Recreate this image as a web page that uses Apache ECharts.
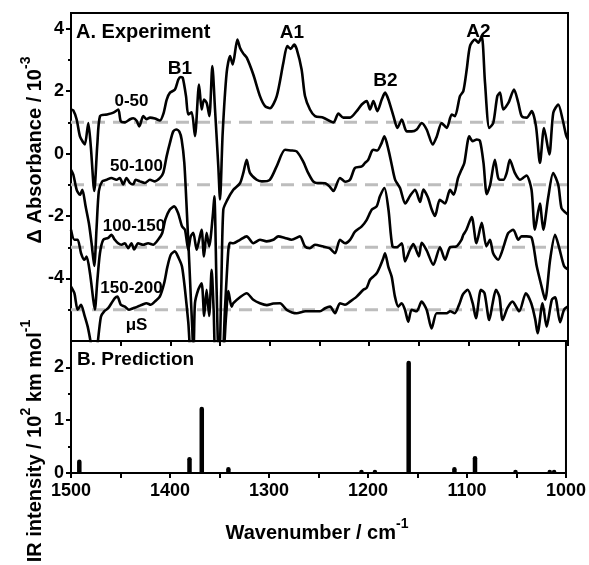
<!DOCTYPE html>
<html>
<head>
<meta charset="utf-8">
<script src="https://cdn.jsdelivr.net/npm/echarts@6/dist/echarts.min.js"></script>
<style>html,body{margin:0;padding:0;background:#fff;}#c{width:589px;height:565px;}</style>
</head>
<body>
<div id="c"></div>
<script>
// ---------- DATA ----------
// Panel A: time-resolved difference spectra (plotted values, offset traces)
var trace0_50 = [[1500,1.41],[1497.7,1.38],[1494.3,1.09],[1491,0.55],[1487.6,0.35],[1486,0.29],[1482.6,0.98],[1480,0.2],[1476.6,-1.2],[1473.5,0.3],[1470.8,1.2],[1464,1.25],[1457.4,1.31],[1452.4,1.41],[1450,1.04],[1445.7,1.0],[1440.6,1.1],[1437.3,1.13],[1434,1.05],[1431.3,0.87],[1427.3,1.2],[1423.9,1.1],[1420.5,1.15],[1415.5,1.12],[1410.5,1.06],[1407,1.28],[1403.7,1.73],[1400.4,1.95],[1395.4,2.05],[1392,2.37],[1389.5,2.45],[1387.6,2.43],[1384.3,1.84],[1382,1.25],[1378.6,1.32],[1375.3,0.56],[1371.2,2.21],[1368.5,1.41],[1366.2,1.73],[1363.5,1.62],[1360.8,1.2],[1357.8,2.8],[1355.1,1.41],[1351.8,-0.41],[1350.1,-1.47],[1347.4,0.66],[1343.4,2.59],[1340,3.12],[1337.3,2.85],[1332.6,3.65],[1330,3.39],[1326.6,3.2],[1323.2,3.07],[1316.6,2.53],[1309.9,1.84],[1304.8,1.52],[1299.8,1.45],[1293,1.84],[1286.4,2.9],[1282.4,3.44],[1279,3.35],[1275.6,3.49],[1273,3.35],[1268,2.69],[1264.6,1.84],[1259.6,1.41],[1254.5,1.2],[1246.1,1.15],[1236,1.0],[1231,1.28],[1226,1.15],[1219.3,1.15],[1212.6,1.36],[1207.5,1.57],[1202.5,1.68],[1199.2,1.41],[1195.8,1.68],[1191.8,1.36],[1187.4,1.73],[1184,1.95],[1180.7,1.73],[1175.6,1.2],[1171.6,0.82],[1167.2,1.09],[1162.3,0.71],[1157.2,0.71],[1152.2,0.77],[1147.2,0.98],[1142.2,0.77],[1136.1,0.29],[1132,0.55],[1127.1,0.98],[1122,0.82],[1117,1.25],[1113.7,1.2],[1108.7,1.84],[1105.3,2.0],[1101.9,2.69],[1098.6,3.44],[1093.6,3.65],[1090.2,3.55],[1086.8,3.76],[1083.5,2.27],[1079.2,0.82],[1075.2,0.98],[1071.1,1.84],[1068.4,1.95],[1065.1,1.41],[1060,1.62],[1054.3,2.05],[1050,1.62],[1046.6,1.2],[1041.5,1.15],[1036.5,1.36],[1032.2,0.87],[1028.2,-0.3],[1024.1,0.82],[1018.8,-0.03],[1014.8,1.31],[1009.8,1.57],[1005.4,1.09],[1002,0.6],[1000,0.45]];

var trace50_100 = [[1500,-0.52],[1497.7,-0.67],[1494.3,-1.16],[1491,-1.32],[1488.6,-1.16],[1485.3,-1.69],[1482,-2.23],[1479.3,-2.87],[1476.6,-3.6],[1474.3,-2.4],[1472,-1.2],[1468.6,-0.89],[1464.3,-0.84],[1459.3,-0.78],[1454.3,-0.84],[1450.9,-0.78],[1447.5,-0.99],[1444.2,-0.78],[1440.8,-0.94],[1437.5,-0.99],[1435,-0.84],[1430.7,-0.89],[1425.7,-0.94],[1420.6,-0.84],[1415.6,-0.89],[1410.5,-0.78],[1407.2,-0.62],[1403.8,-0.09],[1400.4,0.35],[1397.1,0.71],[1394,0.77],[1391,0.7],[1388.7,0.45],[1386,-0.3],[1384,-1.5],[1381,-3.5],[1378,-5.6],[1376,-6.5],[1370,-6.6],[1360,-6.6],[1352,-6.6],[1349,-4.5],[1346.8,-1.8],[1343,-1.5],[1336.7,-1.16],[1330,-0.95],[1326.5,-0.6],[1323.3,-0.2],[1320,-0.62],[1313.2,-0.84],[1308,-0.89],[1300,-0.84],[1293,-0.4],[1284.7,0.12],[1279,0.1],[1273,0.07],[1266.5,-0.25],[1261.4,-0.62],[1256.4,-0.89],[1253,-0.94],[1244.5,-0.95],[1240,-1.05],[1236,-1.2],[1229.4,-0.78],[1224,-0.9],[1219.3,-0.84],[1214.3,-0.46],[1207.5,-0.41],[1204.2,-0.3],[1201,-0.2],[1197.5,0.07],[1195.8,0.12],[1191.8,0.1],[1188,0.3],[1184.7,0.55],[1180.6,0.12],[1177.4,-0.35],[1173.9,-0.84],[1169,-1.1],[1163.8,-1.6],[1158.8,-1.35],[1153.8,-1.16],[1148.8,-1.55],[1145.5,-1.15],[1141,-1.4],[1137,-1.8],[1133.8,-2.0],[1129,-1.48],[1123.7,-1.6],[1118.7,-1.16],[1115,-1.32],[1110.6,-0.78],[1107.2,-0.52],[1104.3,-0.3],[1099.3,0.55],[1096,0.4],[1091.7,0.45],[1088.5,0.4],[1085,-0.3],[1081.7,-1.3],[1078.3,-1.0],[1073.6,-0.2],[1070.5,-0.75],[1068.5,-0.84],[1065,-0.84],[1061.7,-0.62],[1058.5,-0.2],[1053.5,-0.62],[1048.3,-0.84],[1044,-0.75],[1041.6,-0.7],[1036.7,-1.16],[1033.3,-2.44],[1028.3,-1.6],[1024.9,-2.44],[1019.9,-1.4],[1014.9,-0.62],[1009.8,-1.0],[1006.5,-1.75],[1002,-1.9],[1000,-1.95]];

var trace100_150 = [[1500,-2.44],[1496.6,-2.76],[1493.3,-2.76],[1489.9,-3.19],[1486.6,-3.4],[1484.3,-3.3],[1480.9,-3.83],[1477.6,-4.68],[1476,-5.0],[1473.6,-4.1],[1470.9,-3.19],[1467.6,-2.76],[1462.6,-2.7],[1459.3,-2.6],[1455.9,-2.76],[1452.6,-2.87],[1449.2,-2.92],[1445.8,-2.87],[1442.5,-3.03],[1439.2,-2.87],[1436.5,-3.07],[1432.5,-2.87],[1427.4,-2.92],[1422.4,-2.87],[1417.4,-2.92],[1412.4,-2.76],[1408.3,-2.55],[1405,-2.1],[1400.7,-1.8],[1396.3,-1.69],[1392.3,-1.9],[1388.3,-2.33],[1385.3,-2.44],[1382,-3.08],[1379.6,-2.65],[1377,-2.54],[1373.6,-3.08],[1370.3,-2.65],[1368.6,-2.44],[1366.2,-3.29],[1363.6,-2.54],[1361,-2.97],[1357.4,-2.0],[1355.8,-1.37],[1353.5,-4.36],[1351,-6.6],[1348,-6.6],[1345,-4.9],[1341.7,-3.08],[1340,-2.86],[1336.7,-2.87],[1330,-2.76],[1323.3,-2.65],[1316.6,-2.87],[1309.9,-2.76],[1303.2,-2.81],[1296.5,-2.76],[1291.5,-2.65],[1284.8,-2.7],[1278.1,-2.76],[1269.7,-2.65],[1264.7,-2.97],[1259.7,-3.03],[1254.6,-2.92],[1247,-2.97],[1240,-3.03],[1234.4,-3.19],[1229.4,-2.76],[1224.3,-2.87],[1219.3,-2.76],[1214.3,-2.5],[1207.5,-2.33],[1202.5,-2.12],[1197.5,-1.8],[1192.5,-1.69],[1189.2,-1.37],[1184.7,-1.1],[1180.6,-1.8],[1176.6,-2.97],[1172.4,-3.0],[1167.2,-2.87],[1164,-3.45],[1159,-3.08],[1155.6,-2.9],[1150,-3.29],[1147.2,-2.86],[1142.2,-3.1],[1135.5,-3.56],[1128.8,-3.0],[1123.7,-3.4],[1118.7,-3.0],[1112.2,-2.97],[1107.2,-2.76],[1105.3,-2.6],[1102.2,-2.44],[1096.9,-2.03],[1092.1,-2.87],[1086.8,-2.22],[1082.1,-2.97],[1078.5,-2.76],[1075.3,-3.19],[1070.3,-3.4],[1066,-3.1],[1060.2,-2.55],[1055,-2.44],[1050,-2.76],[1046.8,-2.65],[1041.6,-2.65],[1036.5,-2.7],[1031.5,-3.6],[1027,-4.2],[1023,-4.68],[1018,-3.4],[1013,-2.6],[1009,-3.0],[1004,-3.6],[1000.6,-3.7]];

var trace150_200 = [[1500,-4.26],[1496.6,-4.47],[1493.3,-5.0],[1489.9,-4.84],[1486.6,-5.16],[1483.2,-5.54],[1479.9,-6.1],[1476.6,-6.8],[1473.3,-6.1],[1469.9,-5.22],[1466.6,-5.05],[1462.6,-4.95],[1459.3,-4.79],[1455.9,-4.63],[1453.3,-4.58],[1449.9,-4.84],[1445.8,-4.9],[1441.8,-5.0],[1437.5,-4.95],[1433.1,-4.9],[1428.4,-4.84],[1424.1,-4.79],[1419.7,-4.84],[1415.7,-4.74],[1410.7,-4.58],[1406.3,-4.15],[1403,-3.62],[1399.6,-3.24],[1395.6,-3.13],[1391.6,-3.35],[1388.3,-3.62],[1385.3,-4.36],[1382,-5.4],[1379.6,-6.3],[1377,-6.3],[1375.3,-4.79],[1372,-4.36],[1368.6,-4.15],[1366,-5.2],[1363.6,-4.36],[1361,-5.2],[1358.5,-3.72],[1356.5,-5.0],[1354,-6.6],[1348,-6.6],[1344,-5.2],[1341.7,-4.4],[1338.5,-4.9],[1336.7,-4.79],[1330,-4.6],[1323.3,-4.47],[1316.6,-4.68],[1309.9,-4.79],[1303,-4.85],[1296.5,-4.8],[1289.7,-4.79],[1283,-5.0],[1273,-5.11],[1264,-5.05],[1254.5,-5.05],[1249.5,-5.05],[1244.4,-4.95],[1239.4,-4.9],[1234.4,-5.11],[1229.4,-4.79],[1224.3,-4.84],[1219.3,-4.74],[1212.6,-4.58],[1205.9,-4.36],[1202.6,-4.3],[1199.2,-4.04],[1195.9,-3.94],[1192.5,-3.83],[1189.2,-3.62],[1185.8,-3.35],[1184.1,-3.19],[1180.8,-3.62],[1177.4,-3.94],[1174.1,-4.58],[1170.7,-4.9],[1167.4,-4.79],[1164,-5.0],[1160.7,-5.38],[1157.3,-5.0],[1152.3,-5.05],[1147.3,-4.74],[1142.2,-5.0],[1137.2,-5.6],[1132.2,-5.11],[1127.2,-5.11],[1122,-5.11],[1118.7,-5.05],[1114,-5.11],[1109,-4.79],[1105.9,-4.52],[1100.9,-4.36],[1095.9,-4.79],[1092.6,-5.27],[1087.6,-4.36],[1084,-4.47],[1079.2,-5.33],[1075.8,-4.79],[1072.5,-4.36],[1069,-4.58],[1065.8,-5.33],[1061,-4.95],[1055.8,-4.74],[1049.1,-5.05],[1042.4,-4.47],[1037,-4.79],[1033,-5.3],[1030.6,-5.75],[1025.6,-4.79],[1021.5,-5.54],[1016.3,-4.68],[1013,-4.6],[1008,-5.4],[1004,-5.0],[1000.6,-4.9]];

var baselines = [1, -1, -3, -5];
var traceLabels = ['0-50', '50-100', '100-150', '150-200'];

// Panel B: predicted IR stick spectrum [wavenumber, intensity / 10^2 km mol^-1]
var predictedSticks = [[1491.6,0.23],[1380.3,0.28],[1367.9,1.23],[1341,0.09],[1206.6,0.02],[1193,0.02],[1158.9,2.10],[1112.7,0.09],[1091.9,0.30],[1051,0.04],[1016.4,0.04],[1012,0.03]];

var xMin = 1000, xMax = 1500;
var xMajorTicks = [1500, 1400, 1300, 1200, 1100, 1000];
var yTopLabels = [-4, -2, 0, 2, 4];
var yTopMinor = [-5, -3, -1, 1, 3];
var yBotLabels = [0, 1, 2];
var yBotMinor = [0.5, 1.5];
var peakLabels = ['B1', 'A1', 'B2', 'A2'];

// ---------- CHART ----------
var FONT = '"Liberation Sans", Arial, Helvetica, sans-serif';
var chart = echarts.init(document.getElementById('c'), null, {renderer: 'canvas'});

function xAxisCfg(gridIndex, showLabels) {
  return {
    type: 'value', gridIndex: gridIndex, min: xMin, max: xMax, interval: 50, inverse: true,
    axisLine: {show: true, onZero: false, lineStyle: {color: '#000', width: 2}},
    axisTick: {show: true, inside: false, length: 5, lineStyle: {color: '#000', width: 2}},
    axisLabel: {
      show: showLabels, margin: 9, color: '#000', fontFamily: FONT, fontSize: 18, fontWeight: 'bold',
      formatter: function (v) { return xMajorTicks.indexOf(v) >= 0 ? String(v) : ''; }
    },
    splitLine: {show: false}
  };
}
function yAxisCfg(gridIndex, min, max, ticks, labels, tickLen, showLine) {
  return {
    type: 'value', gridIndex: gridIndex, min: min, max: max, position: 'left',
    axisLine: {show: showLine, onZero: false, lineStyle: {color: '#000', width: 2}},
    axisTick: {show: true, inside: false, length: tickLen, customValues: ticks, lineStyle: {color: '#000', width: 2}},
    axisLabel: {show: labels !== null, customValues: labels || [], margin: 7, color: '#000',
      fontFamily: FONT, fontSize: 18, fontWeight: 'bold'},
    splitLine: {show: false}
  };
}

var traces = [trace0_50, trace50_100, trace100_150, trace150_200];
var series = [];
baselines.forEach(function (b) {
  series.push({
    type: 'line', xAxisIndex: 0, yAxisIndex: 0, data: [[xMax, b], [xMin, b]],
    symbol: 'none', silent: true, z: 1,
    lineStyle: {color: '#bdbdbd', width: 3, type: [13, 8]}
  });
});
traces.forEach(function (t) {
  series.push({
    type: 'line', xAxisIndex: 0, yAxisIndex: 0, data: t, symbol: 'none', smooth: 0.25,
    clip: true, z: 3, lineStyle: {color: '#000', width: 2.6}
  });
});
series.push({
  type: 'custom', xAxisIndex: 1, yAxisIndex: 2, data: predictedSticks, z: 3, clip: true,
  renderItem: function (params, api) {
    var p0 = api.coord([api.value(0), 0]);
    var p1 = api.coord([api.value(0), api.value(1)]);
    return {type: 'line', shape: {x1: p0[0], y1: p0[1] - 1, x2: p1[0], y2: p1[1] + 1},
      style: {stroke: '#000', lineWidth: 4.5, lineCap: 'round'}};
  }
});

function txt(x, y, s, size, align) {
  return {type: 'text', x: x, y: y, z: 10,
    style: {text: s, fill: '#000', font: 'bold ' + size + 'px ' + FONT, align: align || 'center', verticalAlign: 'middle'}};
}

var graphics = [
  txt(76, 32, 'A. Experiment', 20, 'left'),
  txt(180, 68.5, peakLabels[0], 19),
  txt(292, 32.5, peakLabels[1], 19),
  txt(385.5, 80.5, peakLabels[2], 19),
  txt(478.5, 31.5, peakLabels[3], 19),
  txt(131.5, 101, traceLabels[0], 17),
  txt(136.5, 166.5, traceLabels[1], 17),
  txt(134, 226.5, traceLabels[2], 17),
  txt(131.5, 288.5, traceLabels[3], 17),
  txt(136.5, 325, 'μS', 17),
  txt(77, 360, 'B. Prediction', 19, 'left'),
  {type: 'text', x: 317, y: 530, z: 10, style: {
    text: '{n|Wavenumber / cm}{s|-1}', align: 'center', verticalAlign: 'middle', fill: '#000',
    rich: {n: {fontFamily: FONT, fontSize: 20, fontWeight: 'bold', lineHeight: 26, verticalAlign: 'bottom'},
           s: {fontFamily: FONT, fontSize: 14, fontWeight: 'bold', lineHeight: 26, verticalAlign: 'top'}}}},
  {type: 'text', x: 32, y: 150, rotation: Math.PI / 2, z: 10, style: {
    text: '{n|Δ Absorbance / 10}{s|-3}', align: 'center', verticalAlign: 'middle', fill: '#000',
    rich: {n: {fontFamily: FONT, fontSize: 20, fontWeight: 'bold', lineHeight: 26, verticalAlign: 'bottom'},
           s: {fontFamily: FONT, fontSize: 14, fontWeight: 'bold', lineHeight: 26, verticalAlign: 'top'}}}},
  {type: 'text', x: 32, y: 441, rotation: Math.PI / 2, z: 10, style: {
    text: '{n|IR intensity / 10}{s|2}{n| km mol}{s|-1}', align: 'center', verticalAlign: 'middle', fill: '#000',
    rich: {n: {fontFamily: FONT, fontSize: 20, fontWeight: 'bold', lineHeight: 26, verticalAlign: 'bottom'},
           s: {fontFamily: FONT, fontSize: 14, fontWeight: 'bold', lineHeight: 26, verticalAlign: 'top'}}}}
];

chart.setOption({
  animation: false,
  backgroundColor: '#fff',
  grid: [
    {left: 71, right: 21, top: 13, height: 328, show: true, borderColor: '#000', borderWidth: 2, backgroundColor: 'transparent'},
    {left: 71, right: 21, top: 341, height: 132, show: true, borderColor: '#000', borderWidth: 2, backgroundColor: 'transparent'}
  ],
  xAxis: [xAxisCfg(0, false), xAxisCfg(1, true)],
  yAxis: [
    yAxisCfg(0, -6, 4.5, yTopLabels, yTopLabels, 5, true),
    yAxisCfg(0, -6, 4.5, yTopMinor, null, 3, false),
    yAxisCfg(1, 0, 2.5, yBotLabels, yBotLabels, 5, true),
    yAxisCfg(1, 0, 2.5, yBotMinor, null, 3, false)
  ],
  series: series,
  graphic: graphics
});
</script>
</body>
</html>
